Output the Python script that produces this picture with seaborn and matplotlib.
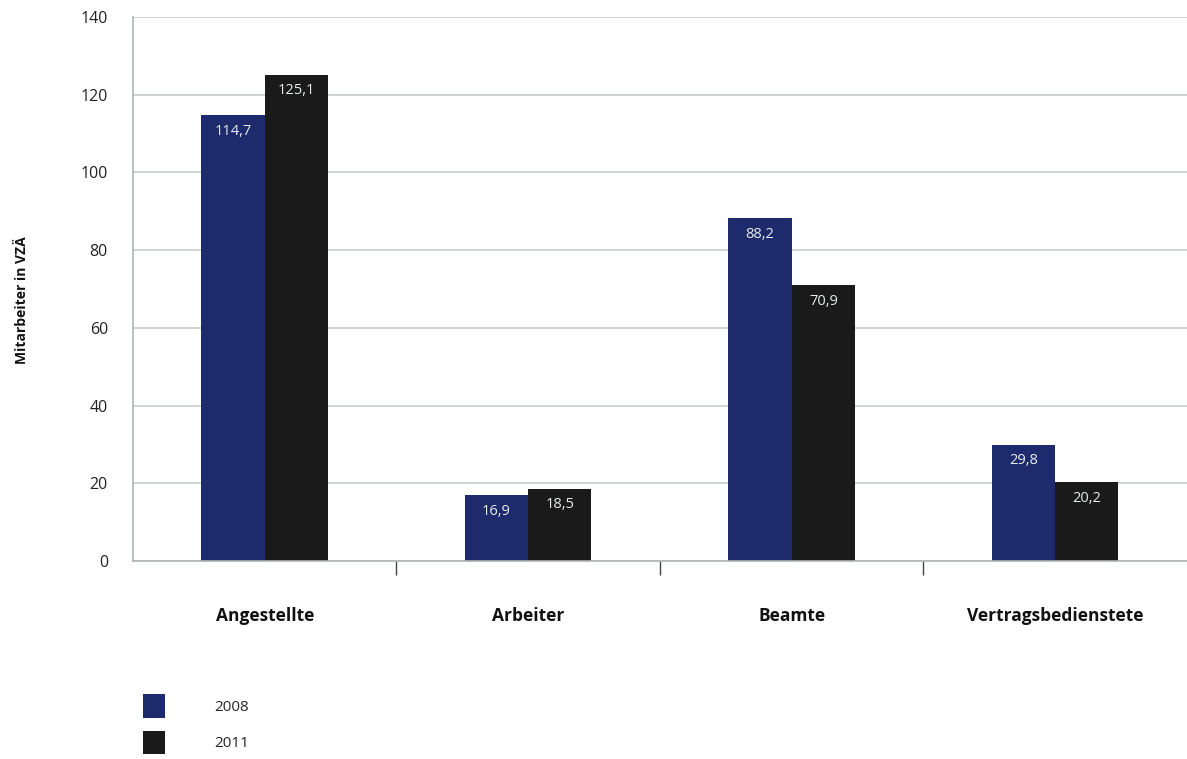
import matplotlib
matplotlib.use("Agg")
import matplotlib.pyplot as plt
import seaborn as sns
import pandas as pd
from matplotlib.patches import Patch

categories = ["Angestellte", "Arbeiter", "Beamte", "Vertragsbedienstete"]
years = ["2008", "2011"]
values_2008 = [114.7, 16.9, 88.2, 29.8]
values_2011 = [125.1, 18.5, 70.9, 20.2]
y_ticks = [0, 20, 40, 60, 80, 100, 120, 140]
y_label = "Mitarbeiter in VZÄ"

colors = {"2008": "#1d2a6c", "2011": "#1a1a1a"}

df = pd.DataFrame({
    "Kategorie": categories * 2,
    "Jahr": [years[0]] * len(categories) + [years[1]] * len(categories),
    "Wert": values_2008 + values_2011,
})

sns.set_theme(style="white")
plt.rcParams["font.family"] = ["Open Sans", "DejaVu Sans"]

fig = plt.figure(figsize=(11.87, 7.59), dpi=100)
ax = fig.add_axes([0.112, 0.261, 0.888, 0.7165])

sns.barplot(data=df, x="Kategorie", y="Wert", hue="Jahr", order=categories,
            hue_order=years, palette=colors, width=0.48, saturation=1,
            edgecolor="none", legend=False, ax=ax)

ax.set_xlim(-0.5, 3.5)
ax.set_ylim(0, 140)
ax.set_yticks(y_ticks)
ax.set_yticklabels([str(t) for t in y_ticks], fontsize=11.5, color="#222222")
ax.yaxis.grid(True, color="#c8cccc", linewidth=1.2)
ax.set_axisbelow(True)
ax.tick_params(axis="y", length=0, pad=18)

# category labels centred, separators as minor ticks at the boundaries
ax.set_xticks(range(len(categories)))
ax.set_xticklabels(categories, fontsize=12.5, fontweight="bold", color="#111111")
ax.tick_params(axis="x", which="major", length=0, pad=33)
ax.set_xticks([0.5, 1.5, 2.5], minor=True)
ax.tick_params(axis="x", which="minor", length=10, width=1, color="#444444",
               direction="out", bottom=True)
ax.set_xlabel("")
ax.set_ylabel(y_label, fontsize=10, fontweight="bold", color="#111111")
ax.yaxis.set_label_coords(-0.099, 0.48)

for side in ["top", "right"]:
    ax.spines[side].set_visible(False)
for side in ["left", "bottom"]:
    ax.spines[side].set_color("#b0b4b4")
    ax.spines[side].set_linewidth(1.2)

# value labels inside the top of each bar
for container in ax.containers:
    for bar in container:
        h = bar.get_height()
        ax.annotate(f"{h:.1f}".replace(".", ","),
                    (bar.get_x() + bar.get_width() / 2, h),
                    xytext=(0, -6), textcoords="offset points",
                    ha="center", va="top", fontsize=10.5, color="#e8ecec")

handles = [Patch(facecolor=colors[y], edgecolor="none") for y in years]
fig.legend(handles, years, loc="upper left", bbox_to_anchor=(0.1205, 0.0856),
           bbox_transform=fig.transFigure, frameon=False, fontsize=11,
           handlelength=1.45, handleheight=2.0, handletextpad=3.2,
           labelspacing=0.85, borderaxespad=0, borderpad=0)

fig.savefig("out.png", dpi=100, facecolor="white")
